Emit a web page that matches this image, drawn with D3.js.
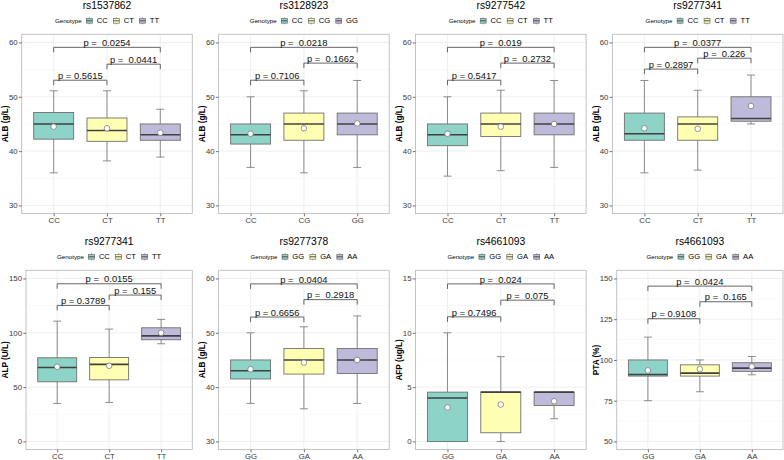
<!DOCTYPE html>
<html><head><meta charset="utf-8">
<script src="https://cdn.jsdelivr.net/npm/d3@7"></script>
<style>
body{margin:0;background:#fff}
svg{display:block;font-family:"Liberation Sans",Arial,Helvetica,sans-serif}
</style>
</head><body><svg id="c" width="784" height="460"></svg>
<script>
// ---- data ----
const snps = ["rs1537862","rs3128923","rs9277542","rs9277341","rs9277341","rs9277378","rs4661093","rs4661093"];
const yTitles = ["ALB (g/L)","ALB (g/L)","ALB (g/L)","ALB (g/L)","ALP (U/L)","ALB (g/L)","AFP (ug/L)","PTA (%)"];
const genotypes = [["CC","CT","TT"],["CC","CG","GG"],["CC","CT","TT"],["CC","CT","TT"],["CC","CT","TT"],["GG","GA","AA"],["GG","GA","AA"],["GG","GA","AA"]];
const yLimits = [[30,60],[30,60],[30,60],[30,60],[0,150],[30,60],[0,15],[50,150]];
const yTicks = [[30,40,50,60],[30,40,50,60],[30,40,50,60],[30,40,50,60],[0,50,100,150],[30,40,50,60],[0,5,10,15],[50,75,100,125,150]];
const lowerWhisker = [[36.0,38.2,38.9],[37.0,36.0,37.0],[35.4,36.4,37.0],[36.0,36.5,45.0],[35.0,35.9,89.9],[37.0,36.0,37.0],[0,0,2.09],[75.0,80.5,90.9]];
const q1 = [[42.2,41.8,42.0],[41.3,42.0,43.0],[41.0,42.7,43.0],[42.0,42.0,45.5],[54.9,56.7,93.6],[41.5,42.4,42.5],[0,0.8,3.31],[90.1,90.1,93.0]];
const medians = [[45.0,43.8,43.0],[43.0,45.0,45.0],[43.0,45.0,45.0],[43.2,45.0,46.0],[68.1,70.9,97.2],[43.0,45.0,45.0],[4.0,4.54,4.54],[91.1,91.9,95.0]];
const q3 = [[47.1,46.1,45.0],[45.0,47.0,47.0],[45.0,47.0,47.0],[47.0,46.3,50.0],[77.0,77.3,104.6],[45.0,47.1,47.1],[4.54,4.54,4.54],[100.0,97.0,98.3]];
const upperWhisker = [[51.1,51.1,47.7],[50.0,51.1,53.0],[50.0,51.2,53.0],[53.0,51.2,54.0],[110.7,103.4,112.3],[50.0,51.1,53.1],[10.0,7.8,4.54],[114.0,100.0,102.1]];
const means = [[44.5,44.2,43.4],[43.2,44.2,45.1],[43.2,44.5,45.0],[44.2,44.1,48.3],[68.7,69.6,100.0],[43.3,44.5,45.0],[3.13,3.4,3.7],[93.6,94.4,96.0]];
const comparisons = [[0,1],[1,2],[0,2]];
const pLabels = [
  ["p = 0.5615","p =  0.0441","p =  0.0254"],
  ["p = 0.7106","p =  0.1662","p =  0.0218"],
  ["p = 0.5417","p =  0.2732","p =  0.019"],
  ["p = 0.2897","p =  0.226","p =  0.0377"],
  ["p = 0.3789","p =  0.155","p =  0.0155"],
  ["p = 0.6656","p =  0.2918","p =  0.0404"],
  ["p = 0.7496","p =  0.075","p =  0.024"],
  ["p = 0.9108","p =  0.165","p =  0.0424"]];
const pBracketY = [[53.05,56.0,59.1],[53.05,56.2,59.1],[53.05,56.2,59.1],[55.1,57.1,59.1],[125.2,134.7,145.1],[52.9,56.1,59.0],[11.47,13.0,14.5],[125.3,135.7,145.3]];
const legendTitle = "Genotype";
const fills = ["#8DD3C7","#FFFFB3","#BEBADA"];

// ---- layout ----
const svg = d3.select("#c");
const COLW = 196.9, ROWH = 236;
const PANEL_RIGHT = 192.3, PANEL_TOP = 34.3, PANEL_BOTTOM = 213.6;
const TICK_FS = 7.8;

function textWidth(str, size, weight){
  const t = svg.append("text").attr("font-size", size).attr("font-weight", weight || "normal").text(str);
  const w = t.node().getComputedTextLength(); t.remove(); return w;
}

snps.forEach((snp, i) => {
  const cx0 = (i % 4) * COLW, cy0 = Math.floor(i / 4) * ROWH;
  const g = svg.append("g").attr("transform", `translate(${cx0},${cy0})`);
  const tickW = d3.max(yTicks[i], t => textWidth(String(t), TICK_FS));
  const left = 13.0 + tickW;
  const lim = yLimits[i], span = lim[1] - lim[0];
  const y = d3.scaleLinear().domain([lim[0] - 0.05 * span, lim[1] + 0.05 * span]).range([PANEL_BOTTOM, PANEL_TOP]);
  const x = d3.scalePoint().domain(genotypes[i]).range([left, PANEL_RIGHT]).padding(0.6);
  const step = x.step();
  const bw = 0.75 * step;
  const capW = 8;
  const midX = (left + PANEL_RIGHT) / 2;

  g.append("rect").attr("x", left).attr("y", PANEL_TOP).attr("width", PANEL_RIGHT - left)
    .attr("height", PANEL_BOTTOM - PANEL_TOP).attr("fill", "#fff");
  const minor = d3.pairs(yTicks[i]).map(([a, b]) => (a + b) / 2);
  g.append("g").selectAll("line").data(minor).join("line")
    .attr("x1", left).attr("x2", PANEL_RIGHT).attr("y1", d => y(d)).attr("y2", d => y(d))
    .attr("stroke", "#F3F3F3").attr("stroke-width", 0.5);
  g.append("g").selectAll("line").data(yTicks[i]).join("line")
    .attr("x1", left).attr("x2", PANEL_RIGHT).attr("y1", d => y(d)).attr("y2", d => y(d))
    .attr("stroke", "#EBEBEB").attr("stroke-width", 0.8);
  g.append("g").selectAll("line").data(genotypes[i]).join("line")
    .attr("x1", d => x(d)).attr("x2", d => x(d)).attr("y1", PANEL_TOP).attr("y2", PANEL_BOTTOM)
    .attr("stroke", "#EBEBEB").attr("stroke-width", 0.8);

  genotypes[i].forEach((gt, j) => {
    const xc = x(gt);
    const bg = g.append("g");
    bg.append("line").attr("x1", xc).attr("x2", xc)
      .attr("y1", y(lowerWhisker[i][j])).attr("y2", y(upperWhisker[i][j]))
      .attr("stroke", "#808080").attr("stroke-width", 0.9);
    [lowerWhisker[i][j], upperWhisker[i][j]].forEach(v => {
      bg.append("line").attr("x1", xc - capW / 2).attr("x2", xc + capW / 2)
        .attr("y1", y(v)).attr("y2", y(v)).attr("stroke", "#808080").attr("stroke-width", 0.9);
    });
    bg.append("rect").attr("x", xc - bw / 2).attr("width", bw)
      .attr("y", y(q3[i][j])).attr("height", Math.max(0.01, y(q1[i][j]) - y(q3[i][j])))
      .attr("fill", fills[j]).attr("stroke", "#707070").attr("stroke-width", 0.9);
    bg.append("line").attr("x1", xc - bw / 2).attr("x2", xc + bw / 2)
      .attr("y1", y(medians[i][j])).attr("y2", y(medians[i][j]))
      .attr("stroke", "#404040").attr("stroke-width", 1.6);
    bg.append("circle").attr("cx", xc).attr("cy", y(means[i][j])).attr("r", 2.8)
      .attr("fill", "#fff").attr("stroke", "#7a7a7a").attr("stroke-width", 0.8);
  });

  comparisons.forEach(([a, b], k) => {
    const x1 = x(genotypes[i][a]), x2 = x(genotypes[i][b]);
    const yy = y(pBracketY[i][k]);
    const tip = 5;
    g.append("path").attr("d", `M${x1},${yy + tip}V${yy}H${x2}V${yy + tip}`)
      .attr("fill", "none").attr("stroke", "#555").attr("stroke-width", 0.9);
    g.append("text").attr("x", (x1 + x2) / 2).attr("y", yy - 1.3)
      .attr("text-anchor", "middle").attr("font-size", 9.4).attr("fill", "#111")
      .style("white-space", "pre").text(pLabels[i][k]);
  });

  g.append("rect").attr("x", left).attr("y", PANEL_TOP).attr("width", PANEL_RIGHT - left)
    .attr("height", PANEL_BOTTOM - PANEL_TOP).attr("fill", "none")
    .attr("stroke", "#bdbdbd").attr("stroke-width", 0.9);

  const ya = g.append("g").attr("transform", `translate(${left},0)`)
    .call(d3.axisLeft(y).tickValues(yTicks[i]).tickSize(2.7).tickPadding(1.3));
  const xa = g.append("g").attr("transform", `translate(0,${PANEL_BOTTOM})`)
    .call(d3.axisBottom(x).tickSize(2.7).tickPadding(1.0));
  [ya, xa].forEach(a => {
    a.select(".domain").remove();
    a.selectAll(".tick line").attr("stroke", "#333").attr("stroke-width", 0.7);
    a.selectAll(".tick text").attr("fill", "#3a3a3a").attr("font-size", TICK_FS)
      .attr("font-family", "Liberation Sans, Arial, sans-serif");
  });

  g.append("text").attr("transform", `translate(5.8,${(PANEL_TOP + PANEL_BOTTOM) / 2}) rotate(-90)`)
    .attr("text-anchor", "middle").attr("dominant-baseline", "central")
    .attr("font-size", 8.2).attr("font-weight", "bold").attr("fill", "#000").text(yTitles[i]);

  g.append("text").attr("x", midX).attr("y", 8.6).attr("text-anchor", "middle")
    .attr("font-size", 10.3).attr("fill", "#000").text(snp);

  const LY = 20.8, titleFs = 6.2, labFs = 7.6, keyW = 6.7;
  const tW = textWidth(legendTitle, titleFs);
  const labWs = genotypes[i].map(s => textWidth(s, labFs));
  const total = tW + 4.3 + d3.sum(labWs) + genotypes[i].length * (keyW + 4) + (genotypes[i].length - 1) * 5.3;
  let cx = midX - total / 2;
  const lg = g.append("g");
  lg.append("text").attr("x", cx).attr("y", LY).attr("dominant-baseline", "central")
    .attr("font-size", titleFs).attr("fill", "#000").text(legendTitle);
  cx += tW + 4.3;
  genotypes[i].forEach((gt, j) => {
    const kx = cx + keyW / 2;
    lg.append("line").attr("x1", kx).attr("x2", kx).attr("y1", LY - 3.6).attr("y2", LY + 3.6)
      .attr("stroke", "#808080").attr("stroke-width", 0.7);
    lg.append("rect").attr("x", cx + 0.4).attr("y", LY - 2.4).attr("width", keyW - 0.8).attr("height", 4.8)
      .attr("fill", fills[j]).attr("stroke", "#707070").attr("stroke-width", 0.7);
    lg.append("line").attr("x1", cx + 0.4).attr("x2", cx + keyW - 0.4).attr("y1", LY).attr("y2", LY)
      .attr("stroke", "#404040").attr("stroke-width", 0.9);
    cx += keyW + 4;
    lg.append("text").attr("x", cx).attr("y", LY).attr("dominant-baseline", "central")
      .attr("font-size", labFs).attr("fill", "#000").text(gt);
    cx += labWs[j] + 5.3;
  });
});
</script>
</body></html>
